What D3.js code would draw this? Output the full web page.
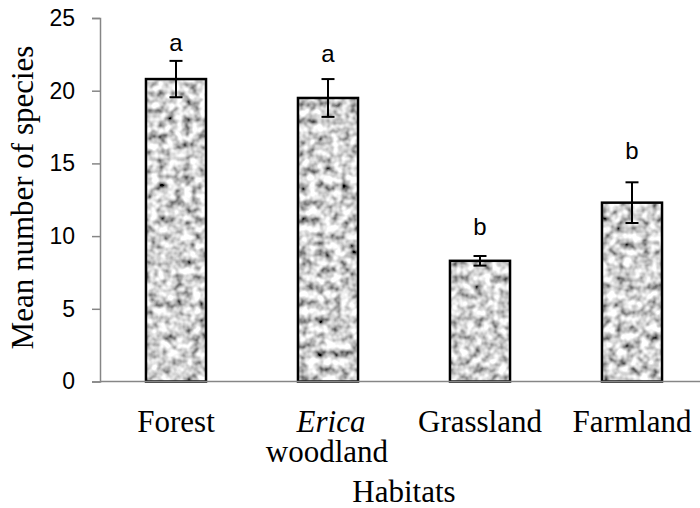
<!DOCTYPE html>
<html>
<head>
<meta charset="utf-8">
<script src="https://cdn.jsdelivr.net/npm/d3@7"></script>
<style>
  body { margin: 0; background: #fff; }
  .tick-lab { font-family: Arial, "Liberation Sans", sans-serif; font-size: 23px; fill: #000; }
  .cat { font-family: "Times New Roman", "Liberation Serif", serif; font-size: 31px; fill: #000; }
  .letter { font-family: Arial, "Liberation Sans", sans-serif; font-size: 24px; fill: #000; }
</style>
</head>
<body>
<svg id="chart"></svg>
<script>
// data
var habitats = ["Forest", "Erica woodland", "Grassland", "Farmland"]
var means = [20.8, 19.5, 8.3, 12.3]
var errors = [1.25, 1.3, 0.33, 1.4]
var letters = ["a", "a", "b", "b"]
var letterAt = [22.75, 21.95, 10.07, 15.28]
var yTicks = [0, 5, 10, 15, 20, 25]

var screen = {width: 700, height: 508}
var margins = {left: 100, top: 18}
var plotBottom = 381.5

var svg = d3.select("#chart")
    .attr("width", screen.width)
    .attr("height", screen.height)

// grey mottled fill like the original
var filt = svg.append("defs").append("filter")
    .attr("id", "mottle")
    .attr("x", 0).attr("y", 0).attr("width", 1).attr("height", 1)
filt.append("feTurbulence")
    .attr("type", "fractalNoise")
    .attr("baseFrequency", 0.12)
    .attr("numOctaves", 2)
    .attr("seed", 11)
    .attr("result", "noise")
filt.append("feColorMatrix")
    .attr("in", "noise")
    .attr("type", "matrix")
    .attr("values", "1.8 0 0 0 -0.25  1.8 0 0 0 -0.25  1.8 0 0 0 -0.25  0 0 0 0 1")
    .attr("result", "grey")
filt.append("feComposite")
    .attr("in", "grey")
    .attr("in2", "SourceGraphic")
    .attr("operator", "in")

var xScale = d3.scaleBand()
    .domain(habitats)
    .range([margins.left, 708])
    .paddingInner(0.605)
    .paddingOuter(0.3025)

var yScale = d3.scaleLinear()
    .domain([0, 25])
    .range([plotBottom, margins.top])

// y axis
var yAxis = d3.axisLeft(yScale)
    .tickValues(yTicks)
    .tickSize(8)
    .tickPadding(17)
var gy = svg.append("g")
    .attr("transform", "translate(" + margins.left + ",0)")
    .call(yAxis)
gy.select(".domain").attr("stroke", "#868686").attr("stroke-width", 1.5)
gy.selectAll(".tick line").attr("stroke", "#868686").attr("stroke-width", 1.5)
gy.selectAll(".tick text").attr("class", "tick-lab").attr("font-size", null).attr("font-family", null)

// bars
var bars = svg.append("g")
bars.selectAll("rect.fill")
    .data(habitats)
    .enter()
    .append("rect")
    .attr("class", "fill")
    .attr("x", function(d) { return xScale(d) })
    .attr("y", function(d, i) { return yScale(means[i]) })
    .attr("width", xScale.bandwidth())
    .attr("height", function(d, i) { return plotBottom - yScale(means[i]) })
    .attr("fill", "#aaa")
    .attr("filter", "url(#mottle)")
bars.selectAll("rect.edge")
    .data(habitats)
    .enter()
    .append("rect")
    .attr("class", "edge")
    .attr("x", function(d) { return xScale(d) })
    .attr("y", function(d, i) { return yScale(means[i]) })
    .attr("width", xScale.bandwidth())
    .attr("height", function(d, i) { return plotBottom - yScale(means[i]) })
    .attr("fill", "none")
    .attr("stroke", "#000")
    .attr("stroke-width", 2.5)

// x axis line
svg.append("line")
    .attr("x1", margins.left).attr("x2", screen.width)
    .attr("y1", plotBottom).attr("y2", plotBottom)
    .attr("stroke", "#868686")
    .attr("stroke-width", 1.5)

// error bars
var eb = svg.append("g").attr("stroke", "#000").attr("stroke-width", 2)
habitats.forEach(function(h, i) {
    var cx = xScale(h) + xScale.bandwidth() / 2
    var top = yScale(means[i] + errors[i])
    var bot = yScale(means[i] - errors[i])
    eb.append("line").attr("x1", cx).attr("x2", cx).attr("y1", top).attr("y2", bot)
    eb.append("line").attr("x1", cx - 6.5).attr("x2", cx + 6.5).attr("y1", top).attr("y2", top)
    eb.append("line").attr("x1", cx - 6.5).attr("x2", cx + 6.5).attr("y1", bot).attr("y2", bot)
})

// significance letters
svg.selectAll("text.letter")
    .data(letters)
    .enter()
    .append("text")
    .attr("class", "letter")
    .attr("text-anchor", "middle")
    .attr("x", function(d, i) { return xScale(habitats[i]) + xScale.bandwidth() / 2 })
    .attr("y", function(d, i) { return yScale(letterAt[i]) })
    .text(function(d) { return d })

// category labels
var cats = svg.append("g")
habitats.forEach(function(h) {
    var cx = xScale(h) + xScale.bandwidth() / 2
    if (h == "Erica woodland") {
        cats.append("text").attr("class", "cat").attr("text-anchor", "middle")
            .attr("x", cx + 3).attr("y", 431.5).style("font-style", "italic").text("Erica")
        cats.append("text").attr("class", "cat").attr("text-anchor", "middle")
            .attr("x", cx - 1).attr("y", 462).text("woodland")
    } else {
        cats.append("text").attr("class", "cat").attr("text-anchor", "middle")
            .attr("x", cx).attr("y", 431.5).text(h)
    }
})

// axis titles
svg.append("text")
    .attr("class", "cat")
    .attr("text-anchor", "middle")
    .attr("x", 404)
    .attr("y", 501.5)
    .text("Habitats")

svg.append("text")
    .attr("class", "cat")
    .attr("text-anchor", "middle")
    .attr("transform", "translate(33,197.5) rotate(-90)")
    .text("Mean number of species")
</script>
</body>
</html>
